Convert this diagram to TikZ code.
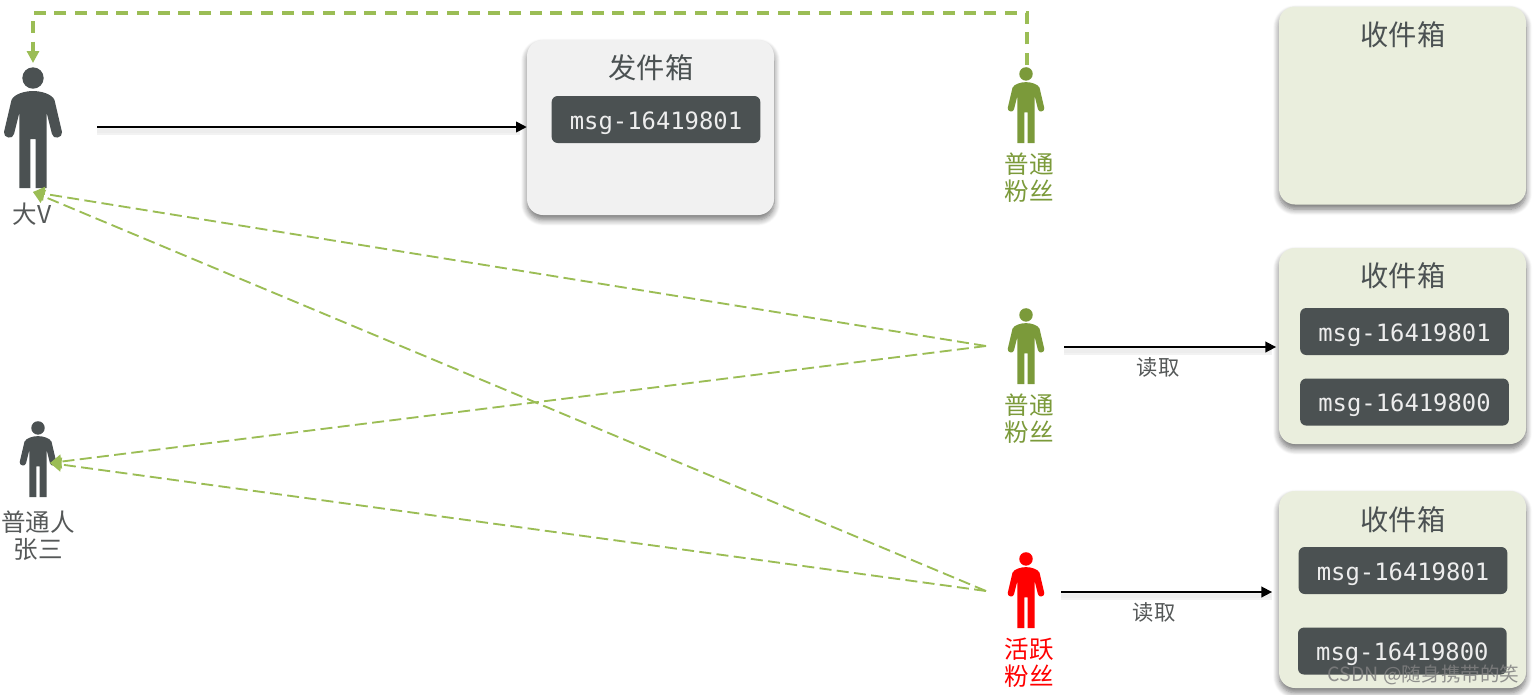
\documentclass[tikz,border=0pt]{standalone}
\usepackage{fontspec}
\setmainfont{Noto Sans CJK SC}
\newfontfamily\msgfont{DejaVu Sans Mono}
\usetikzlibrary{arrows.meta,positioning,shadows.blur}
\definecolor{mDark}{HTML}{4B5152}
\definecolor{mText}{HTML}{555858}
\definecolor{mLeaf}{HTML}{7B9A3A}
\definecolor{mDash}{HTML}{9BBD55}
\definecolor{mInbox}{HTML}{EAEEDD}
\definecolor{mOutbox}{HTML}{F1F1F1}
\tikzstyle{line} = [draw, -{Triangle[length=8pt,width=8pt]},line width=1.3pt,fill=none,
  preaction={draw=black!5,line width=6pt,-,shorten >=5pt,transform canvas={yshift=-3pt}},
  preaction={draw=black!7,line width=3pt,-,shorten >=6pt,transform canvas={yshift=-3pt}}]
\tikzstyle{fanline} = [draw=mDash, -{Triangle[length=8.5pt,width=10.5pt]},line width=1.4pt,fill=none,dash pattern=on 9pt off 4pt]
\tikzstyle{topline} = [draw=mDash, -{Triangle[length=9pt,width=9pt]},line width=2.6pt,fill=none,dash pattern=on 9pt off 6.5pt]
\tikzset{
  person/.pic={
    \fill[pic actions] (0,11) circle[radius=10.7];
    \fill[pic actions] (0,24) .. controls (-8,24) and (-19,27) .. (-21.5,33)
      -- (-29,65) .. controls (-30,71) and (-20,73) .. (-19,67) -- (-13.7,46)
      -- (-13.7,121) -- (-2.7,121) -- (-2.7,72) -- (2.7,72) -- (2.7,121) -- (13.7,121) -- (13.7,46)
      -- (19,67) .. controls (20,73) and (30,71) .. (29,65)
      -- (21.5,33) .. controls (19,27) and (8,24) .. (0,24) -- cycle;
  },
}

\begin{document}
\begin{tikzpicture}[
    x=.75pt,y=-.75pt,
    box/.style={
      rounded corners=12pt,
      minimum width=185.25pt,
      blur shadow={shadow xshift=0pt,shadow yshift=-3.5pt,shadow blur steps=8,shadow blur radius=4.5pt,shadow opacity=55},
    },
    title/.style={
      text=mDark,
      font=\fontsize{21.2}{24}\selectfont,
      inner sep=0pt,
    },
    msg/.style={
      fill=mDark,
      rounded corners=4.5pt,
      minimum width=156.5pt,
      minimum height=35.25pt,
      inner sep=0pt,
      text height=14.5pt,
      text depth=0pt,
      text=white!93!black,
      font=\msgfont\fontsize{17.9}{20}\selectfont,
    },
    who/.style={
      align=center,
      inner sep=0pt,
      font=\fontsize{18.4}{20.25}\selectfont,
    },
    read/.style={
      text=mText,
      inner sep=0pt,
      font=\fontsize{16}{18}\selectfont,
    },
  ]
  \useasboundingbox (0,0) rectangle (1534,694);

  % boxes
  \node[box,fill=mOutbox,minimum height=131.25pt] (outbox) at (650.5,127.5) {};
  \node[box,fill=mInbox,minimum height=148.5pt] (inbox1) at (1402.5,105.5) {};
  \node[box,fill=mInbox,minimum height=147pt] (inbox2) at (1402.5,346) {};
  \node[box,fill=mInbox,minimum height=147.75pt] (inbox3) at (1402.5,589.5) {};

  \node[title] (outtitle) at (651,68) {发件箱};
  \node[title] (intitle1) at (1403,35) {收件箱};
  \node[title] (intitle2) at (1403,276) {收件箱};
  \node[title] (intitle3) at (1403,520) {收件箱};

  \node[msg] (outmsg) at (656,119.5) {msg-16419801};
  \node[msg] (msg21) at (1404.5,331.5) {msg-16419801};
  \node[msg,below=17.25pt of msg21] (msg22) {msg-16419800};
  \node[msg] (msg31) at (1403,570.5) {msg-16419801};
  \node[msg,below=24.75pt of msg31,xshift=-.5pt] (msg32) {msg-16419800};

  % people
  \pic[fill=mDark] at (33,67) {person};
  \pic[fill=mDark,scale=.63] at (38,421) {person};
  \pic[fill=mLeaf,scale=.63] at (1026,67) {person};
  \pic[fill=mLeaf,scale=.63] at (1026,308) {person};
  \pic[fill=red,scale=.63] at (1026,552) {person};

  \node[who,text=mText] (bigv) at (32,214) {大V};
  \node[who,text=mText] (zhang) at (38,535.5) {普通人\\张三};
  \node[who,text=mLeaf] (fan1) at (1029,177.5) {普通\\粉丝};
  \node[who,text=mLeaf] (fan2) at (1029,418.5) {普通\\粉丝};
  \node[who,text=red] (fan3) at (1029,662.5) {活跃\\粉丝};

  \coordinate (vtop) at (33,63);
  \coordinate (vfoot) at (33,192);
  \coordinate (vhand) at (97,127);
  \coordinate (zhangin) at (50,463);
  \coordinate (fan1top) at (1027,65);
  \coordinate (fan2w) at (986,346);
  \coordinate (fan2e) at (1064,347);
  \coordinate (fan3w) at (986,591);
  \coordinate (fan3e) at (1061,592);
  \coordinate (corner) at (1027,13);

  % pull
  \draw[topline] (fan1top) -- (corner) -- (corner -| vtop) -- (vtop);
  \draw[fanline] (fan2w) -- (vfoot);
  \draw[fanline] (fan2w) -- (zhangin);
  \draw[fanline] (fan3w) -- (vfoot);
  \draw[fanline] (fan3w) -- (zhangin);

  % write and read
  \draw[line] (vhand) -- (vhand -| outbox.west);
  \draw[line,shorten >=2pt] (fan2e) -- (fan2e -| inbox2.west);
  \draw[line,shorten >=5pt] (fan3e) -- (fan3e -| inbox3.west);
  \node[read] (read2) at (1158,367) {读取};
  \node[read] (read3) at (1154,612) {读取};

  \node[text=gray,opacity=.85,inner sep=0pt,font=\fontsize{14.7}{16}\selectfont] (mark) at (1423.5,675) {CSDN @随身携带的笑};
\end{tikzpicture}
\end{document}
